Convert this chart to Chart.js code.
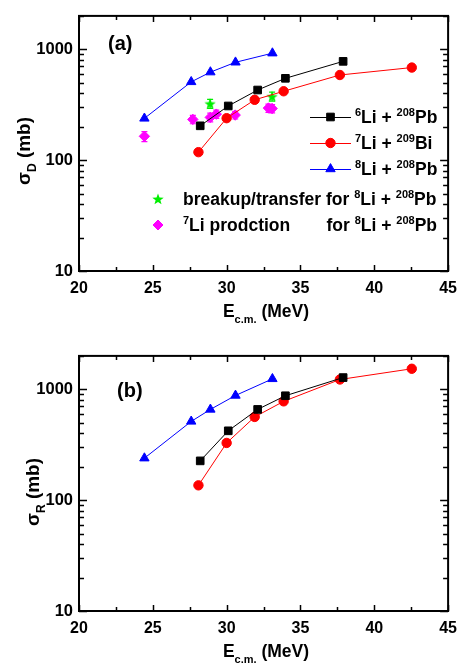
<!DOCTYPE html>
<html><head><meta charset="utf-8">
<script src="https://cdn.jsdelivr.net/npm/chart.js@4/dist/chart.umd.min.js"></script>
<style>
html,body{margin:0;padding:0;background:#fff;}
#ca{position:absolute;left:0;top:0;}
#cb{position:absolute;left:0;top:340px;}
</style>
</head><body>
<canvas id="ca" width="465" height="340"></canvas>
<canvas id="cb" width="465" height="324"></canvas>
<script>
// ---------- data ----------
const xTicks = [20, 25, 30, 35, 40, 45];
const yTicks = [10, 100, 1000];

// panel (a): sigma_D
const li6E = [28.21, 30.11, 32.10, 33.98, 37.89];
const li6SigD = [204, 308, 429, 547, 778];
const li7E = [28.09, 30.00, 31.90, 33.86, 37.67, 42.54];
const li7SigD = [118, 239, 350, 418, 586, 684];
const li8E = [24.43, 27.60, 28.90, 30.60, 33.10];
const li8SigD = [238, 508, 622, 763, 922];
const bkE = [28.88, 33.08];
const bkSig = [323, 375];
const bkErr = [30, 35];
const prodE = [24.43, 27.71, 28.89, 29.30, 30.58, 32.83, 33.08];
const prodSig = [164, 233, 243, 260, 255, 295, 292];
const prodErr = [17, 20, 22, 22, 20, 25, 25];

// panel (b): sigma_R
const li6SigR = [226, 422, 658, 874, 1275];
const li7SigR = [136, 328, 563, 778, 1225, 1531];
const li8SigR = [239, 513, 658, 879, 1241];

// ---------- helpers ----------
const FONT = '"Liberation Sans", Arial, Helvetica, sans-serif';
function pts(xs, ys, es) { return xs.map((x, i) => es ? {x, y: ys[i], e: es[i]} : {x, y: ys[i]}); }

function rich(ctx, x, y, segs, size, align) {
  const f = k => 'bold ' + (k === 'n' ? size : Math.round(size * 0.64)) + 'px ' + FONT;
  let total = 0;
  for (const [t, k] of segs) { ctx.font = f(k); total += ctx.measureText(t).width; }
  let cx = x;
  if (align === 'right') cx = x - total; else if (align === 'center') cx = x - total / 2;
  ctx.textAlign = 'left';
  for (const [t, k] of segs) {
    ctx.font = f(k);
    const dy = k === 'sup' ? -size * 0.42 : (k === 'sub' ? size * 0.32 : 0);
    ctx.fillText(t, cx, y + dy);
    cx += ctx.measureText(t).width;
  }
  return total;
}

// filled five-point star point style
const starImg = document.createElement('canvas');
starImg.width = 12; starImg.height = 12;
(function () {
  const c = starImg.getContext('2d');
  c.fillStyle = '#00ee00';
  c.beginPath();
  for (let i = 0; i < 10; i++) {
    const r = i % 2 === 0 ? 6 : 2.5;
    const a = -Math.PI / 2 + i * Math.PI / 5;
    const px = 6 + r * Math.cos(a), py = 6.5 + r * Math.sin(a);
    if (i === 0) c.moveTo(px, py); else c.lineTo(px, py);
  }
  c.closePath(); c.fill();
})();

function marker(ctx, style, color, r, x, y) {
  ctx.save();
  ctx.fillStyle = color; ctx.strokeStyle = color; ctx.lineWidth = 1;
  Chart.helpers.drawPoint(ctx, {pointStyle: style, radius: r, rotation: 0, borderWidth: 1}, x, y);
  ctx.restore();
}

// frame + inward ticks (mirrored on all sides)
const frameTicks = {
  id: 'frameTicks',
  afterDraw(chart) {
    const {ctx, chartArea: a} = chart;
    const xs = chart.scales.x, ys = chart.scales.y;
    ctx.save();
    ctx.strokeStyle = '#000';
    ctx.lineWidth = 1.5;
    ctx.beginPath();
    for (let v = xTicks[0]; v <= xTicks[xTicks.length - 1] + 1e-9; v += 2.5) {
      const px = Math.round(xs.getPixelForValue(v)) + 0.5;
      const L = xTicks.includes(v) ? 6 : 4;
      ctx.moveTo(px, a.bottom); ctx.lineTo(px, a.bottom - L);
      ctx.moveTo(px, a.top); ctx.lineTo(px, a.top + L);
    }
    for (const d of yTicks) {
      for (let m = 1; m <= 9; m++) {
        const v = m * d;
        if (v > ys.max + 1e-6) break;
        const py = Math.round(ys.getPixelForValue(v)) + 0.5;
        const L = m === 1 ? 8 : 5;
        ctx.moveTo(a.left, py); ctx.lineTo(a.left + L, py);
        ctx.moveTo(a.right, py); ctx.lineTo(a.right - L, py);
      }
    }
    ctx.stroke();
    ctx.lineWidth = 2;
    ctx.strokeRect(a.left, a.top, a.right - a.left, a.bottom - a.top);
    ctx.restore();
  }
};

// vertical error bars with caps
const errorBars = {
  id: 'errorBars',
  beforeDatasetsDraw(chart) {
    const {ctx} = chart;
    const xs = chart.scales.x, ys = chart.scales.y;
    chart.data.datasets.forEach(ds => {
      if (!ds.hasErr) return;
      ctx.save();
      ctx.strokeStyle = ds.borderColor; ctx.lineWidth = 1.2;
      ctx.beginPath();
      ds.data.forEach(p => {
        const px = xs.getPixelForValue(p.x);
        const y1 = ys.getPixelForValue(p.y - p.e), y2 = ys.getPixelForValue(p.y + p.e);
        ctx.moveTo(px, y1); ctx.lineTo(px, y2);
        ctx.moveTo(px - 3, y1); ctx.lineTo(px + 3, y1);
        ctx.moveTo(px - 3, y2); ctx.lineTo(px + 3, y2);
      });
      ctx.stroke();
      ctx.restore();
    });
  }
};

function scalesFor(xHeight) {
  return {
    x: {
      type: 'linear', min: 20, max: 45,
      afterBuildTicks: s => { s.ticks = xTicks.map(v => ({value: v})); },
      afterFit: s => { s.height = xHeight; },
      grid: {display: false, drawTicks: false},
      border: {display: false},
      ticks: {color: '#000', padding: 8, font: {family: FONT, size: 16, weight: 'bold'}, maxRotation: 0}
    },
    y: {
      type: 'logarithmic', min: 10, max: 2000,
      afterBuildTicks: s => { s.ticks = yTicks.map(v => ({value: v})); },
      afterFit: s => { s.width = 79; },
      grid: {display: false, drawTicks: false},
      border: {display: false},
      ticks: {color: '#000', padding: 6, font: {family: FONT, size: 16.5, weight: 'bold'},
              callback: v => String(v)}
    }
  };
}

function lineDs(label, xs, ys, color, style, r) {
  return {label, data: pts(xs, ys), showLine: true, borderColor: color, backgroundColor: color,
          borderWidth: 1, pointStyle: style, pointRadius: r, pointBorderWidth: 1, pointHoverRadius: r};
}

const seriesLabels = [
  [['6', 'sup'], ['Li + ', 'n'], ['208', 'sup'], ['Pb', 'n']],
  [['7', 'sup'], ['Li + ', 'n'], ['209', 'sup'], ['Bi', 'n']],
  [['8', 'sup'], ['Li + ', 'n'], ['208', 'sup'], ['Pb', 'n']]
];

// ---------- panel (a) ----------
const decorA = {
  id: 'decorA',
  afterDraw(chart) {
    const ctx = chart.ctx;
    ctx.save();
    ctx.fillStyle = '#000';
    ctx.textBaseline = 'alphabetic';
    // panel label
    ctx.font = 'bold 20px ' + FONT; ctx.textAlign = 'left';
    ctx.fillText('(a)', 108, 50);
    // x title
    rich(ctx, 266, 317, [['E', 'n'], ['c.m.', 'sub'], [' (MeV)', 'n']], 17.5, 'center');
    // y title
    ctx.save(); ctx.translate(30, 151); ctx.rotate(-Math.PI / 2);
    rich(ctx, 0, 0, [['σ', 'n'], ['D', 'sub'], [' (mb)', 'n']], 19, 'center');
    ctx.restore();
    // legend
    const rows = [[117, '#000', 'rect', 5.4], [143, '#ff0000', 'circle', 4.7], [169, '#0000ff', 'triangle', 5.4]];
    rows.forEach(([y, c, s, r], i) => {
      ctx.save(); ctx.strokeStyle = c; ctx.lineWidth = 1;
      ctx.beginPath(); ctx.moveTo(310, y + 0.5); ctx.lineTo(351, y + 0.5); ctx.stroke(); ctx.restore();
      marker(ctx, s, c, r, 330.5, y);
      ctx.fillStyle = '#000';
      rich(ctx, 355, y + 6, seriesLabels[i], 17.5, 'left');
    });
    ctx.drawImage(starImg, 152, 193);
    rich(ctx, 183, 205, [['breakup/transfer for ', 'n'], ['8', 'sup'], ['Li + ', 'n'], ['208', 'sup'], ['Pb', 'n']], 17.5, 'left');
    marker(ctx, 'rectRot', '#ff00ff', 5, 158, 225);
    ctx.fillStyle = '#000';
    rich(ctx, 183, 231, [['7', 'sup'], ['Li prodction', 'n']], 17.5, 'left');
    rich(ctx, 437, 231, [['for ', 'n'], ['8', 'sup'], ['Li + ', 'n'], ['208', 'sup'], ['Pb', 'n']], 17.5, 'right');
    ctx.restore();
  }
};

new Chart(document.getElementById('ca'), {
  type: 'scatter',
  data: {
    datasets: [
      lineDs('6Li + 208Pb', li6E, li6SigD, '#000000', 'rect', 5.4),
      lineDs('7Li + 209Bi', li7E, li7SigD, '#ff0000', 'circle', 4.7),
      lineDs('8Li + 208Pb', li8E, li8SigD, '#0000ff', 'triangle', 5.4),
      {label: 'breakup/transfer for 8Li + 208Pb', data: pts(bkE, bkSig, bkErr), hasErr: true, showLine: false,
       borderColor: '#00ee00', backgroundColor: '#00ee00', pointStyle: starImg, pointRadius: 6},
      {label: '7Li prodction for 8Li + 208Pb', data: pts(prodE, prodSig, prodErr), hasErr: true, showLine: false,
       borderColor: '#ff00ff', backgroundColor: '#ff00ff', pointStyle: 'rectRot', pointRadius: 5.2, pointBorderWidth: 1}
    ]
  },
  options: {
    responsive: false, animation: false,
    layout: {padding: {left: 0, right: 13, top: 10, bottom: 0}},
    plugins: {legend: {display: false}, tooltip: {enabled: false}},
    scales: scalesFor(69)
  },
  plugins: [errorBars, frameTicks, decorA]
});

// ---------- panel (b) ----------
const decorB = {
  id: 'decorB',
  afterDraw(chart) {
    const ctx = chart.ctx;
    ctx.save();
    ctx.fillStyle = '#000';
    ctx.textBaseline = 'alphabetic';
    ctx.font = 'bold 20px ' + FONT; ctx.textAlign = 'left';
    ctx.fillText('(b)', 117, 57);
    rich(ctx, 266, 317, [['E', 'n'], ['c.m.', 'sub'], [' (MeV)', 'n']], 17.5, 'center');
    ctx.save(); ctx.translate(39, 152); ctx.rotate(-Math.PI / 2);
    rich(ctx, 0, 0, [['σ', 'n'], ['R', 'sub'], [' (mb)', 'n']], 19, 'center');
    ctx.restore();
    ctx.restore();
  }
};

new Chart(document.getElementById('cb'), {
  type: 'scatter',
  data: {
    datasets: [
      lineDs('6Li + 208Pb', li6E, li6SigR, '#000000', 'rect', 5.4),
      lineDs('7Li + 209Bi', li7E, li7SigR, '#ff0000', 'circle', 4.7),
      lineDs('8Li + 208Pb', li8E, li8SigR, '#0000ff', 'triangle', 5.4)
    ]
  },
  options: {
    responsive: false, animation: false,
    layout: {padding: {left: 0, right: 13, top: 11, bottom: 0}},
    plugins: {legend: {display: false}, tooltip: {enabled: false}},
    scales: scalesFor(53)
  },
  plugins: [frameTicks, decorB]
});
</script>
</body></html>
